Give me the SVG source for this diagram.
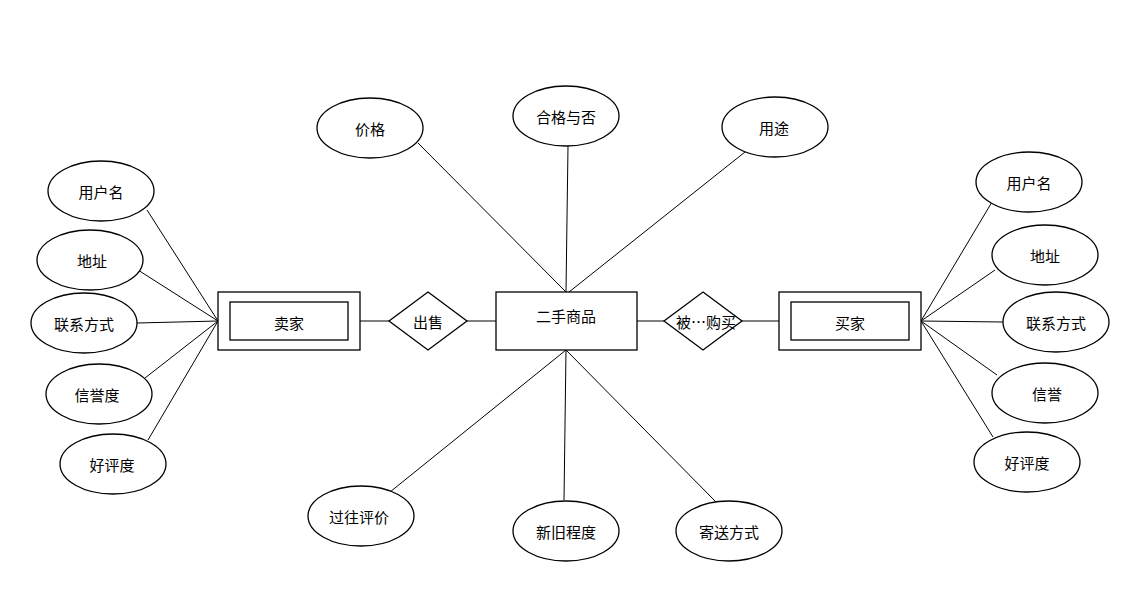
<svg xmlns="http://www.w3.org/2000/svg" width="1130" height="599" viewBox="0 0 1130 599">
<style>
.s{fill:#fff;stroke:#000;stroke-width:1.3}
.l{stroke:#000;stroke-width:1;fill:none}
text{font-family:"Noto Sans CJK SC","Liberation Sans",sans-serif;font-size:15px;text-anchor:middle;dominant-baseline:central;fill:#000}
</style>
<rect width="1130" height="599" fill="#fff"/>
<g id="connectors" class="l">
<line x1="147" y1="210" x2="218" y2="321"/><line x1="138" y1="270" x2="218" y2="321"/><line x1="137" y1="323" x2="218" y2="321"/><line x1="145" y1="378" x2="218" y2="321"/><line x1="148" y1="440" x2="218" y2="321"/>
<line x1="418" y1="143" x2="566" y2="292"/><line x1="568" y1="146" x2="566" y2="292"/><line x1="745" y1="152" x2="569" y2="292"/>
<line x1="390" y1="492" x2="566" y2="350"/><line x1="564" y1="500" x2="566" y2="350"/><line x1="716" y1="502" x2="566" y2="350"/>
<line x1="992" y1="202" x2="921" y2="321"/><line x1="995" y1="270" x2="921" y2="321"/><line x1="1003" y1="322" x2="921" y2="321"/><line x1="997" y1="375" x2="921" y2="321"/><line x1="993" y1="437" x2="921" y2="321"/>
<line x1="360" y1="321" x2="389" y2="321"/><line x1="467" y1="321" x2="496" y2="321"/><line x1="637" y1="321" x2="664" y2="321"/><line x1="742" y1="321" x2="779" y2="321"/>
</g>
<g id="seller"><rect class="s" x="218" y="292" width="142" height="58"/><rect class="s" x="230" y="302" width="118" height="38"/><text x="289" y="322">卖家</text></g>
<g id="sell"><polygon class="s" points="428,292 467,321 428,350 389,321"/><text x="428" y="321">出售</text></g>
<g id="goods"><rect class="s" x="496" y="292" width="141" height="58"/><text x="566" y="315">二手商品</text></g>
<g id="bought"><polygon class="s" points="703,292 742,321 703,350 664,321"/><text x="706" y="321">被…购买</text></g>
<g id="buyer"><rect class="s" x="779" y="292" width="142" height="58"/><rect class="s" x="791" y="302" width="118" height="38"/><text x="850" y="322">买家</text></g>
<g id="l1"><ellipse class="s" cx="101" cy="191" rx="53" ry="30"/><text x="101" y="191">用户名</text></g>
<g id="l2"><ellipse class="s" cx="90" cy="260" rx="53" ry="30"/><text x="92" y="260">地址</text></g>
<g id="l3"><ellipse class="s" cx="84" cy="323" rx="53" ry="30"/><text x="84" y="323">联系方式</text></g>
<g id="l4"><ellipse class="s" cx="99" cy="394" rx="53" ry="30"/><text x="97" y="394">信誉度</text></g>
<g id="l5"><ellipse class="s" cx="113" cy="464" rx="53" ry="30"/><text x="112" y="464">好评度</text></g>
<g id="t1"><ellipse class="s" cx="370" cy="128" rx="53" ry="30"/><text x="370" y="128">价格</text></g>
<g id="t2"><ellipse class="s" cx="566" cy="116" rx="53" ry="30"/><text x="566" y="116">合格与否</text></g>
<g id="t3"><ellipse class="s" cx="775" cy="127" rx="53" ry="30"/><text x="774" y="127">用途</text></g>
<g id="b1"><ellipse class="s" cx="361" cy="516" rx="53" ry="30"/><text x="359" y="516">过往评价</text></g>
<g id="b2"><ellipse class="s" cx="566" cy="531" rx="53" ry="30"/><text x="566" y="531">新旧程度</text></g>
<g id="b3"><ellipse class="s" cx="729" cy="531" rx="53" ry="30"/><text x="729" y="531">寄送方式</text></g>
<g id="r1"><ellipse class="s" cx="1029" cy="182" rx="53" ry="30"/><text x="1029" y="182">用户名</text></g>
<g id="r2"><ellipse class="s" cx="1045" cy="255" rx="53" ry="30"/><text x="1045" y="255">地址</text></g>
<g id="r3"><ellipse class="s" cx="1056" cy="322" rx="53" ry="30"/><text x="1056" y="322">联系方式</text></g>
<g id="r4"><ellipse class="s" cx="1045" cy="393" rx="53" ry="30"/><text x="1047" y="393">信誉</text></g>
<g id="r5"><ellipse class="s" cx="1027" cy="462" rx="53" ry="30"/><text x="1027" y="462">好评度</text></g>
</svg>
